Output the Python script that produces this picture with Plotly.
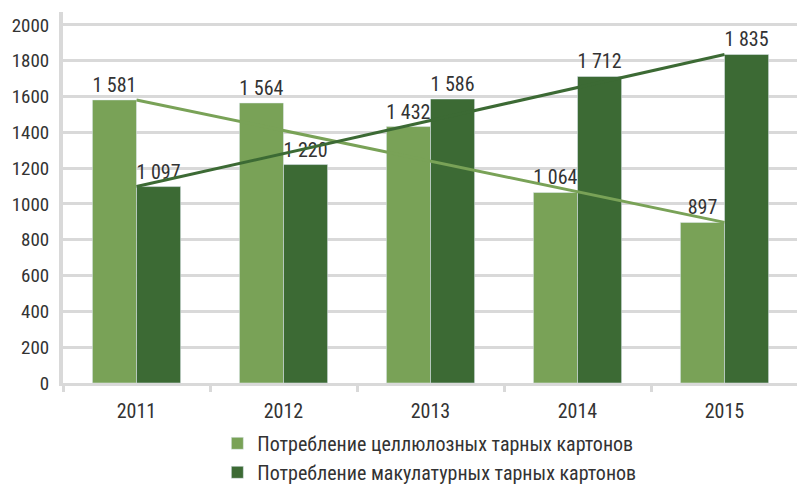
import plotly.graph_objects as go

# data
years = ["2011", "2012", "2013", "2014", "2015"]
cellulose = [1581, 1564, 1432, 1064, 897]
recycled = [1097, 1220, 1586, 1712, 1835]
names = ["Потребление целлюлозных тарных картонов",
         "Потребление макулатурных тарных картонов"]
y_ticks = [0, 200, 400, 600, 800, 1000, 1200, 1400, 1600, 1800, 2000]

light = "#79a257"
dark = "#3c6a34"
grid = "#d9d9d9"
font = "Roboto Condensed, DejaVu Sans Condensed, sans-serif"

fig = go.Figure()

fig.add_trace(go.Bar(x=years, y=cellulose, name=names[0], marker_color=light,
                     text=cellulose, texttemplate="%{y:,}", textposition="outside",
                     constraintext="none", textfont=dict(size=20, color="#333333"),
                     cliponaxis=False))
fig.add_trace(go.Bar(x=years, y=recycled, name=names[1], marker_color=dark,
                     text=recycled, texttemplate="%{y:,}", textposition="outside",
                     constraintext="none", textfont=dict(size=20, color="#333333"),
                     cliponaxis=False))

# lines from first to last year
fig.add_trace(go.Scatter(x=[years[0], years[-1]], y=[cellulose[0], cellulose[-1]],
                         mode="lines", line=dict(color=light, width=3), showlegend=False))
fig.add_trace(go.Scatter(x=[years[0], years[-1]], y=[recycled[0], recycled[-1]],
                         mode="lines", line=dict(color=dark, width=3), showlegend=False))

fig.update_layout(
    width=805, height=500,
    margin=dict(l=55, r=15, t=4, b=125),
    plot_bgcolor="white", paper_bgcolor="white",
    barmode="group", bargap=0.4, bargroupgap=0,
    separators=", ",
    font=dict(family=font, size=20, color="#333333"),
    legend=dict(orientation="v", x=0.21, xanchor="left", y=-0.11, yanchor="top",
                font=dict(size=20, color="#333333")),
)
fig.update_xaxes(showgrid=False, showline=True, linecolor=grid, linewidth=3,
                 ticks="outside", tickson="boundaries", tickcolor=grid, tickwidth=3,
                 ticklen=6, tickfont=dict(size=20), ticklabelstandoff=8,
                 automargin=False)
fig.update_yaxes(range=[0, 2072], tickvals=y_ticks, showgrid=True, gridcolor=grid,
                 gridwidth=3, showline=True, linecolor=grid, linewidth=4,
                 zeroline=False, ticks="", ticklabelstandoff=6, tickfont=dict(size=19),
                 automargin=False)

fig.write_html("out.html")
